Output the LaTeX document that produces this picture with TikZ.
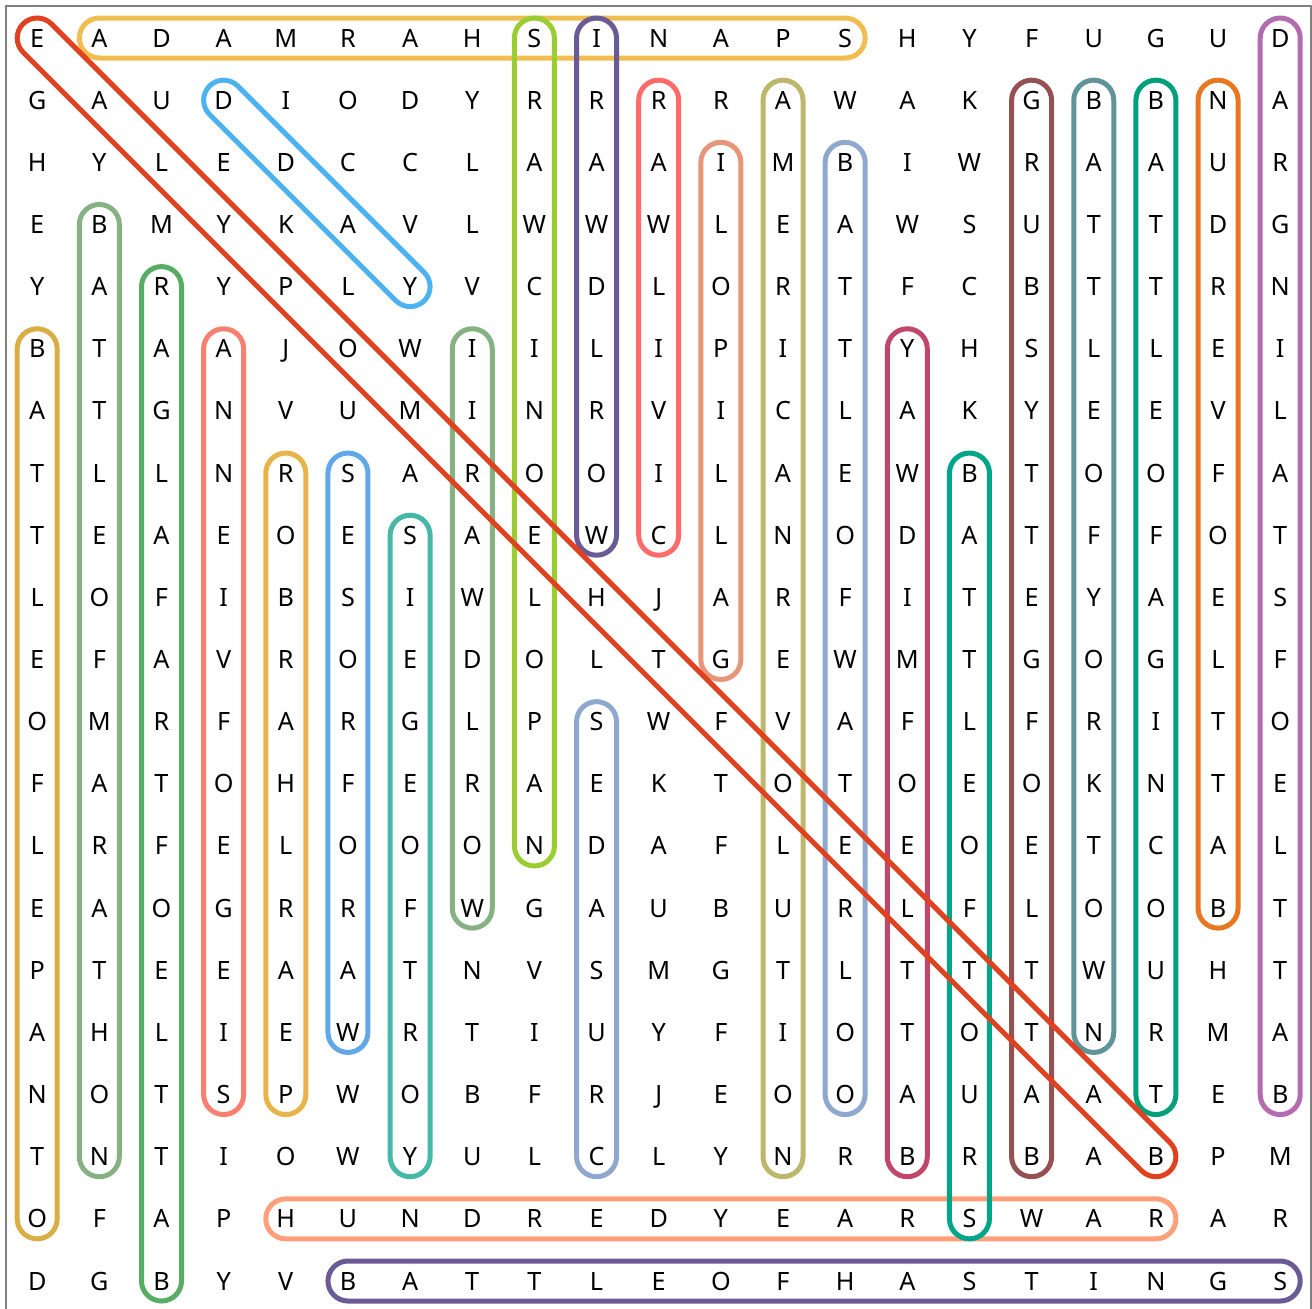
\documentclass[tikz,border=0pt]{standalone}
\usepackage{fontspec}
\setmainfont{Noto Sans}
\usepackage{xcolor}
\usepackage{tikz}
\usetikzlibrary{calc,backgrounds}

\definecolor{thermo}{HTML}{E0421F}
\definecolor{armada}{HTML}{F0BE50}
\definecolor{napoleon}{HTML}{9ACD32}
\definecolor{wwone}{HTML}{6B5B95}
\definecolor{dday}{HTML}{4DB3F0}
\definecolor{civil}{HTML}{FF6B6B}
\definecolor{gallipoli}{HTML}{E8967A}
\definecolor{amrev}{HTML}{BDB76B}
\definecolor{waterloo}{HTML}{8FA8D0}
\definecolor{gettys}{HTML}{955151}
\definecolor{yorktown}{HTML}{5F9498}
\definecolor{agincourt}{HTML}{00A07D}
\definecolor{verdun}{HTML}{E87722}
\definecolor{stalin}{HTML}{B56BB0}
\definecolor{midwaycol}{HTML}{C0466A}
\definecolor{lepanto}{HTML}{DAAE45}
\definecolor{marathon}{HTML}{86B283}
\definecolor{trafalgar}{HTML}{58AD65}
\definecolor{vienna}{HTML}{F88070}
\definecolor{pearl}{HTML}{E8B449}
\definecolor{roses}{HTML}{62A8E8}
\definecolor{troy}{HTML}{47B8A8}
\definecolor{tours}{HTML}{00A58A}
\definecolor{hundred}{HTML}{FFA07A}

\tikzset{
  letter/.style={inner sep=0pt, text height=9pt, text depth=0pt,
    font=\fontsize{12.6}{15}\selectfont},
  ring/.style={line width=2.5pt, line join=round}
}

% outline round a word, from first letter to last
\newcommand{\ringr}{10pt}
\newcommand{\wordring}[3]{%
  \draw[ring,#1] let \p1=($(#3.center)-(#2.center)$), \n1={atan2(\y1,\x1)} in
    ($(#2.center)!\ringr!90:(#3.center)$) -- ($(#3.center)!\ringr!-90:(#2.center)$)
    arc[start angle=\n1+90, end angle=\n1-90, radius=\ringr]
    -- ($(#2.center)!\ringr!-90:(#3.center)$)
    arc[start angle=\n1-90, end angle=\n1-270, radius=\ringr]
    -- cycle;}

\begin{document}
\begin{tikzpicture}
\useasboundingbox (0,0) rectangle (656pt,-654pt);
\draw[gray, line width=1pt] (3pt,-3pt) rectangle (655.3pt,-655.3pt);

\foreach \gridrow [count=\rowno from 0] in {
  {E,A,D,A,M,R,A,H,S,I,N,A,P,S,H,Y,F,U,G,U,D},
  {G,A,U,D,I,O,D,Y,R,R,R,R,A,W,A,K,G,B,B,N,A},
  {H,Y,L,E,D,C,C,L,A,A,A,I,M,B,I,W,R,A,A,U,R},
  {E,B,M,Y,K,A,V,L,W,W,W,L,E,A,W,S,U,T,T,D,G},
  {Y,A,R,Y,P,L,Y,V,C,D,L,O,R,T,F,C,B,T,T,R,N},
  {B,T,A,A,J,O,W,I,I,L,I,P,I,T,Y,H,S,L,L,E,I},
  {A,T,G,N,V,U,M,I,N,R,V,I,C,L,A,K,Y,E,E,V,L},
  {T,L,L,N,R,S,A,R,O,O,I,L,A,E,W,B,T,O,O,F,A},
  {T,E,A,E,O,E,S,A,E,W,C,L,N,O,D,A,T,F,F,O,T},
  {L,O,F,I,B,S,I,W,L,H,J,A,R,F,I,T,E,Y,A,E,S},
  {E,F,A,V,R,O,E,D,O,L,T,G,E,W,M,T,G,O,G,L,F},
  {O,M,R,F,A,R,G,L,P,S,W,F,V,A,F,L,F,R,I,T,O},
  {F,A,T,O,H,F,E,R,A,E,K,T,O,T,O,E,O,K,N,T,E},
  {L,R,F,E,L,O,O,O,N,D,A,F,L,E,E,O,E,T,C,A,L},
  {E,A,O,G,R,R,F,W,G,A,U,B,U,R,L,F,L,O,O,B,T},
  {P,T,E,E,A,A,T,N,V,S,M,G,T,L,T,T,T,W,U,H,T},
  {A,H,L,I,E,W,R,T,I,U,Y,F,I,O,T,O,T,N,R,M,A},
  {N,O,T,S,P,W,O,B,F,R,J,E,O,O,A,U,A,A,T,E,B},
  {T,N,T,I,O,W,Y,U,L,C,L,Y,N,R,B,R,B,A,B,P,M},
  {O,F,A,P,H,U,N,D,R,E,D,Y,E,A,R,S,W,A,R,A,R},
  {D,G,B,Y,V,B,A,T,T,L,E,O,F,H,A,S,T,I,N,G,S}}{
  \foreach \ch [count=\colno from 0] in \gridrow {
    \node[letter] (l-\rowno-\colno) at ({18.6pt+31.075pt*\colno},{-19pt-31.075pt*\rowno}) {\ch};
  }
}

\begin{scope}[on background layer]
% across
\wordring{armada}{l-0-1}{l-0-13}
\wordring{hundred}{l-19-4}{l-19-18}
\wordring{wwone}{l-20-5}{l-20-20}
% down
\wordring{lepanto}{l-5-0}{l-19-0}
\wordring{marathon}{l-3-1}{l-18-1}
\wordring{trafalgar}{l-4-2}{l-20-2}
\wordring{vienna}{l-5-3}{l-17-3}
\wordring{pearl}{l-7-4}{l-17-4}
\wordring{roses}{l-7-5}{l-16-5}
\wordring{troy}{l-8-6}{l-18-6}
\wordring{marathon}{l-5-7}{l-14-7}
\wordring{napoleon}{l-0-8}{l-13-8}
\wordring{wwone}{l-0-9}{l-8-9}
\wordring{waterloo}{l-11-9}{l-18-9}
\wordring{civil}{l-1-10}{l-8-10}
\wordring{gallipoli}{l-2-11}{l-10-11}
\wordring{amrev}{l-1-12}{l-18-12}
\wordring{waterloo}{l-2-13}{l-17-13}
\wordring{midwaycol}{l-5-14}{l-18-14}
\wordring{tours}{l-7-15}{l-19-15}
\wordring{gettys}{l-1-16}{l-18-16}
\wordring{yorktown}{l-1-17}{l-16-17}
\wordring{agincourt}{l-1-18}{l-17-18}
\wordring{verdun}{l-1-19}{l-14-19}
\wordring{stalin}{l-0-20}{l-17-20}
% diagonal
\wordring{dday}{l-1-3}{l-4-6}
\wordring{thermo}{l-0-0}{l-18-18}
\end{scope}
\end{tikzpicture}
\end{document}
